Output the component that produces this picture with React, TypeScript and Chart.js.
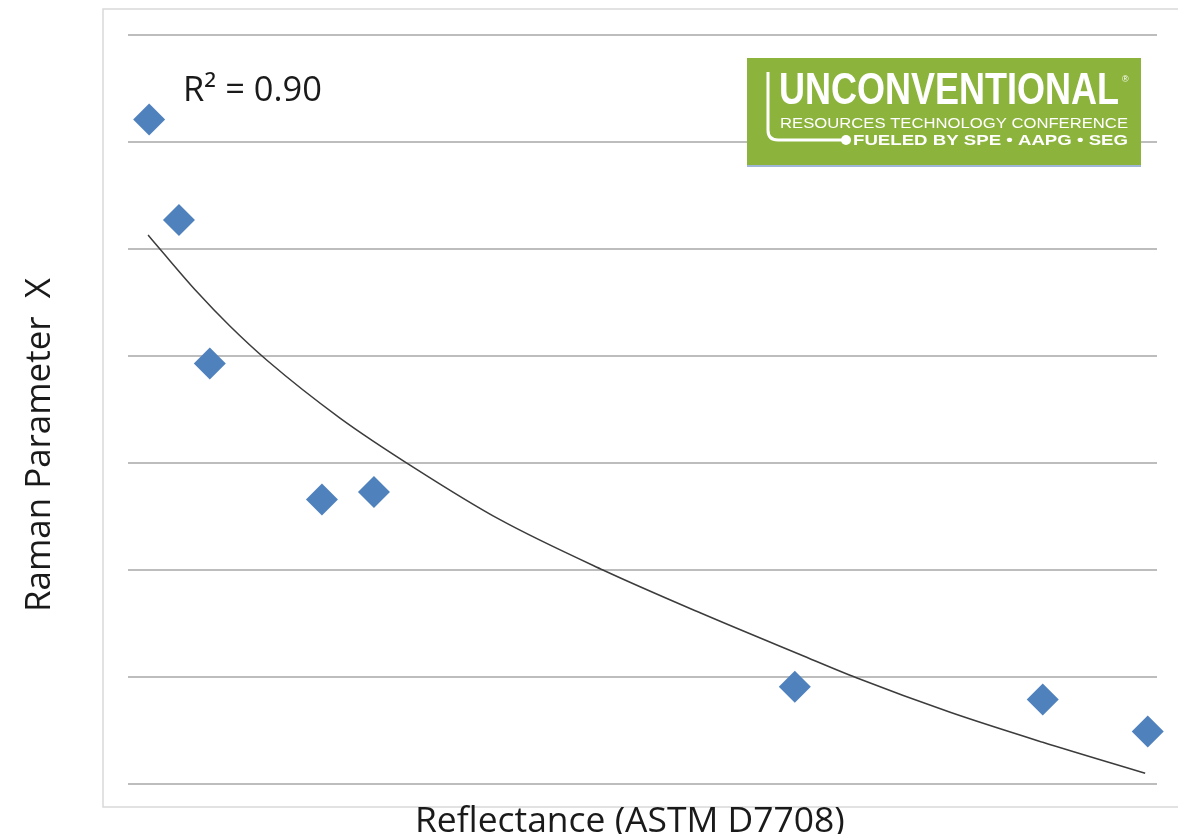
import React, { useEffect, useRef } from 'react';
import { Chart, registerables } from 'chart.js';

Chart.register(...registerables);

// Measured data (reflectance vs Raman parameter X)
const reflectance = [0.541, 0.599, 0.659, 0.877, 0.978, 1.796, 2.278, 2.482];
const ramanX = [6.21, 5.27, 3.93, 2.66, 2.73, 0.91, 0.79, 0.49];

// Trend line
const trendX = [0.539, 0.562, 0.634, 0.698, 0.77, 0.912, 1.058, 1.223, 1.423, 1.612, 1.806, 1.917, 2.098, 2.278, 2.477];
const trendY = [5.13, 5.0, 4.6, 4.28, 3.96, 3.42, 2.95, 2.47, 2.0, 1.6, 1.21, 0.99, 0.67, 0.39, 0.1];

const xTitle = 'Reflectance (ASTM D7708)';
const yTitle = 'Raman Parameter  X';
const r2Label = 'R\u00B2 = 0.90';
const logoTitle = 'UNCONVENTIONAL';
const logoLine1 = 'RESOURCES TECHNOLOGY CONFERENCE';
const logoLine2 = 'FUELED BY SPE \u2022 AAPG \u2022 SEG';

const FONT = '"Open Sans", "Noto Sans", sans-serif';

function fitFont(ctx: CanvasRenderingContext2D, text: string, width: number, weight: string, family: string) {
  ctx.font = `${weight} 40px ${family}`;
  const w = ctx.measureText(text).width;
  const size = (40 * width) / w;
  ctx.font = `${weight} ${size}px ${family}`;
  return size;
}

function drawStretched(ctx: CanvasRenderingContext2D, text: string, x: number, y: number, width: number, size: number, weight: string, family: string) {
  ctx.save();
  ctx.font = `${weight} ${size}px ${family}`;
  const w = ctx.measureText(text).width;
  ctx.translate(x, y);
  ctx.scale(width / w, 1);
  ctx.textAlign = 'left';
  ctx.textBaseline = 'alphabetic';
  ctx.fillText(text, 0, 0);
  ctx.restore();
}

const decorPlugin = {
  id: 'decor',
  beforeDraw(chart: any) {
    const ctx = chart.ctx as CanvasRenderingContext2D;
    ctx.save();
    ctx.fillStyle = '#ffffff';
    ctx.fillRect(0, 0, chart.width, chart.height);
    ctx.strokeStyle = '#d9d9d9';
    ctx.lineWidth = 1.5;
    ctx.strokeRect(103, 9, 1200, 798);
    ctx.restore();
  },
  afterDraw(chart: any) {
    const ctx = chart.ctx as CanvasRenderingContext2D;
    ctx.save();
    ctx.fillStyle = '#1a1a1a';
    // X title
    fitFont(ctx, xTitle, 430, 'normal', FONT);
    ctx.textAlign = 'left';
    ctx.textBaseline = 'alphabetic';
    ctx.fillText(xTitle, 415, 832);
    // Y title
    ctx.save();
    ctx.translate(50, 612);
    ctx.rotate(-Math.PI / 2);
    fitFont(ctx, yTitle, 334, 'normal', FONT);
    ctx.fillText(yTitle, 0, 0);
    ctx.restore();
    // R^2
    fitFont(ctx, r2Label, 139, 'normal', FONT);
    ctx.fillText(r2Label, 183, 101);

    // Logo
    ctx.fillStyle = '#8cb43c';
    ctx.fillRect(747, 58, 394, 107);
    ctx.fillStyle = '#9fb6d6';
    ctx.fillRect(747, 165, 394, 2);
    ctx.strokeStyle = '#ffffff';
    ctx.lineWidth = 3;
    ctx.beginPath();
    ctx.moveTo(768, 72);
    ctx.lineTo(768, 130);
    ctx.quadraticCurveTo(768, 140, 778, 140);
    ctx.lineTo(842, 140);
    ctx.stroke();
    ctx.fillStyle = '#ffffff';
    ctx.beginPath();
    ctx.arc(846, 140, 5, 0, Math.PI * 2);
    ctx.fill();
    drawStretched(ctx, logoTitle, 779, 104, 340, 44, 'bold', '"Liberation Sans", Arial, sans-serif');
    ctx.font = '9px "Liberation Sans", Arial, sans-serif';
    ctx.fillText('\u00AE', 1122, 82);
    drawStretched(ctx, logoLine1, 780, 128, 348, 14, 'normal', '"Liberation Sans", Arial, sans-serif');
    drawStretched(ctx, logoLine2, 853, 145, 275, 14, 'bold', '"Liberation Sans", Arial, sans-serif');
    ctx.restore();
  },
};

export default function App() {
  const ref = useRef<HTMLCanvasElement | null>(null);
  useEffect(() => {
    document.body.style.margin = '0';
    const canvas = ref.current;
    if (!canvas) return;
    const scatterData = reflectance.map((x, i) => ({ x, y: ramanX[i] }));
    const trendData = trendX.map((x, i) => ({ x, y: trendY[i] }));
    const chart = new Chart(canvas, {
      type: 'scatter',
      data: {
        datasets: [
          {
            label: 'Samples',
            data: scatterData,
            pointStyle: 'rectRot',
            pointRadius: 16,
            pointHoverRadius: 16,
            backgroundColor: '#4f81bd',
            borderColor: '#4f81bd',
            borderWidth: 0,
            showLine: false,
            clip: false,
          },
          {
            label: 'Trend',
            data: trendData,
            showLine: true,
            borderColor: '#3c3c3c',
            borderWidth: 1.5,
            pointRadius: 0,
            pointHoverRadius: 0,
            cubicInterpolationMode: 'monotone',
            fill: false,
            clip: false,
          },
        ],
      },
      options: {
        responsive: false,
        animation: false,
        events: [],
        layout: { padding: { left: 128, top: 35, right: 21, bottom: 50 } },
        plugins: { legend: { display: false }, tooltip: { enabled: false }, title: { display: false } },
        scales: {
          x: {
            type: 'linear',
            min: 0.5,
            max: 2.5,
            ticks: { display: false },
            grid: { display: false, drawTicks: false },
            border: { display: false },
            afterFit: (s: any) => { s.height = 0; },
          },
          y: {
            type: 'linear',
            min: 0,
            max: 7,
            ticks: { display: false, stepSize: 1 },
            grid: { color: '#bdbdbd', lineWidth: 2, drawTicks: false },
            border: { display: false },
            afterFit: (s: any) => { s.width = 0; },
          },
        },
      } as any,
      plugins: [decorPlugin],
    });
    return () => chart.destroy();
  }, []);
  return (
    <div style={{ position: 'absolute', left: 0, top: 0, width: 1178, height: 834 }}>
      <canvas ref={ref} width={1178} height={834} style={{ display: 'block' }} />
    </div>
  );
}
